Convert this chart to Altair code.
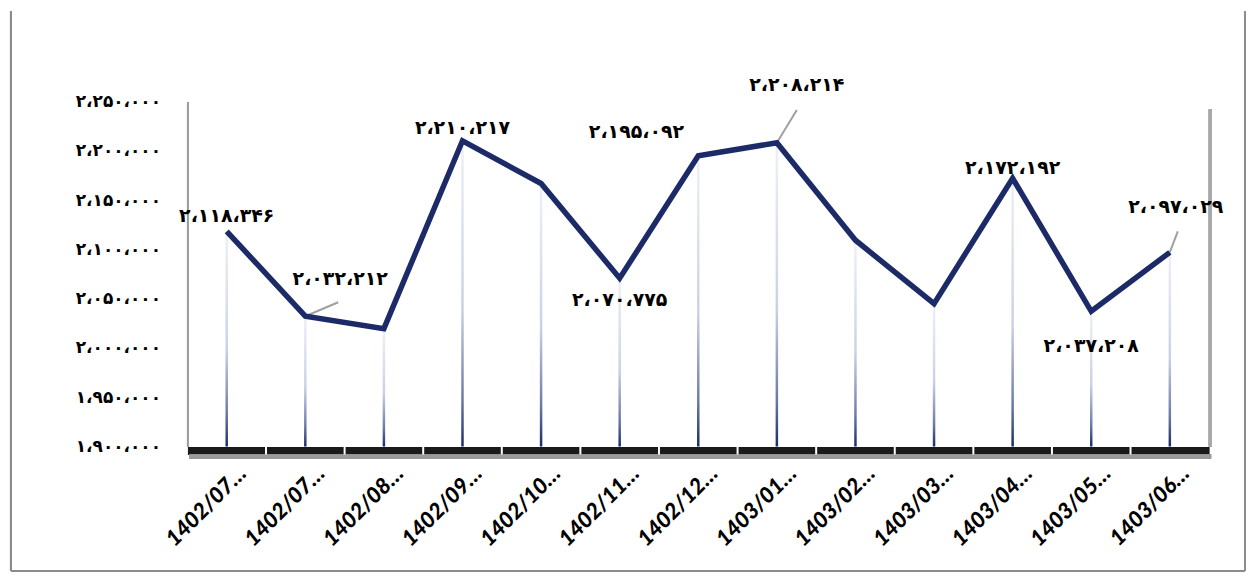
import altair as alt
import pandas as pd

# ---- data ----
categories = ["1402/07…", "1402/07…", "1402/08…", "1402/09…", "1402/10…", "1402/11…",
              "1402/12…", "1403/01…", "1403/02…", "1403/03…", "1403/04…", "1403/05…", "1403/06…"]
values = [2118346, 2032212, 2019600, 2210217, 2166900, 2070775, 2195092,
          2208214, 2109300, 2045000, 2172192, 2037208, 2097029]
labeled = [0, 1, 3, 5, 6, 7, 10, 11, 12]
y_ticks = [1900000, 1950000, 2000000, 2050000, 2100000, 2150000, 2200000, 2250000]

FA = str.maketrans("0123456789", "۰۱۲۳۴۵۶۷۸۹")


def fa(n):
    return f"{n:,}".replace(",", "،").translate(FA)


df = pd.DataFrame({
    "idx": list(range(len(values))),
    "value": values,
    "label": [fa(v) for v in values],
})

W, H = 1025, 346
Y0, Y1 = 1900000, 2250000
NAVY = "#1c2b68"
FONT_FA = "DejaVu Sans"

ylab_map = "{" + ",".join(f"'{t}':'{fa(t)}'" for t in y_ticks) + "}"
xlab_arr = "[" + ",".join(f"'{c}'" for c in categories) + "]"

x_enc = alt.X("idx:O", title=None,
              scale=alt.Scale(paddingInner=0, paddingOuter=0),
              axis=alt.Axis(labelExpr=f"{xlab_arr}[datum.value]", labelAngle=-45,
                            labelAlign="right", labelBaseline="middle",
                            labelFont="Lato", labelFontWeight=900, labelFontStyle="italic",
                            labelFontSize=22, labelColor="#000000", labelPadding=19,
                            labelOffset=16, ticks=False, domainColor="#1a1a1a",
                            domainWidth=8, domainCap="butt", offset=4))
y_scale = alt.Scale(domain=[Y0, Y1], nice=False, zero=False)
y_enc = alt.Y("value:Q", title=None, scale=y_scale,
              axis=alt.Axis(values=y_ticks, labelExpr=f"{ylab_map}[datum.value]",
                            labelFont=FONT_FA, labelFontWeight="bold", labelFontSize=17,
                            labelColor="#000000", labelPadding=27, ticks=False, grid=False,
                            domainColor="#9a9a9a", domainWidth=2))

base = alt.Chart(df)

gradient = alt.Gradient(gradient="linear", x1=0, x2=0, y1=0, y2=1, stops=[
    alt.GradientStop(color="#eef1f7", offset=0),
    alt.GradientStop(color="#c9d1e3", offset=0.55),
    alt.GradientStop(color="#6a78a6", offset=0.85),
    alt.GradientStop(color="#1c2b68", offset=1),
])

drops = base.mark_bar(size=2.5, fill=gradient).encode(x=x_enc, y=y_enc, y2=alt.datum(Y0))

line = base.mark_line(color=NAVY, strokeWidth=5.5, strokeJoin="miter").encode(x="idx:O", y="value:Q")

# shadow under the bottom bar
shadow = base.mark_rule(color="#9a9a9a", strokeWidth=4, opacity=0.5).encode(
    x=alt.value(2), x2=alt.value(W + 2), y=alt.value(H + 10))

# separators in the bottom bar
seps = base.transform_filter("datum.idx > 0").mark_rule(color="#ffffff", strokeWidth=2).encode(
    x=alt.X("idx:O", bandPosition=0), y=alt.value(H), y2=alt.value(H + 8))

# right frame of the plot
right = base.mark_rule(color="#a8a8a8", strokeWidth=2.5).encode(
    x=alt.value(W + 1), y=alt.value(8), y2=alt.value(H))

# outer frame
frame_l = base.mark_rule(color="#8c8c8c", strokeWidth=2).encode(
    x=alt.value(-177), y=alt.value(-91), y2=alt.value(471))
frame_r = base.mark_rule(color="#8c8c8c", strokeWidth=2).encode(
    x=alt.value(1061), y=alt.value(-91), y2=alt.value(471))
frame_b = base.mark_rule(color="#8c8c8c", strokeWidth=2).encode(
    x=alt.value(-177), x2=alt.value(1061), y=alt.value(471))

# label placement (pixel offsets from the point)
placement = {0: (0, -15), 1: (35, -37), 3: (0, -13), 5: (0, 22), 6: (-62, -24),
             7: (20, -58), 10: (0, -10), 11: (0, 35), 12: (6, -45)}
leaders = {1: (33, -14), 7: (20, -33), 12: (8, -21)}

layers = [shadow, drops, seps, right, frame_l, frame_r, frame_b]
for i, (ox, oy) in leaders.items():
    layers.append(base.transform_filter(f"datum.idx == {i}").mark_rule(
        color="#a0a0a0", strokeWidth=2, x2Offset=ox, y2Offset=oy).encode(
        x="idx:O", y="value:Q", x2=alt.X2("idx"), y2=alt.Y2("value")))
layers.append(line)
for i in labeled:
    dx, dy = placement[i]
    layers.append(base.transform_filter(f"datum.idx == {i}").mark_text(
        font=FONT_FA, fontWeight="bold", fontSize=19, color="#000000",
        dx=dx, dy=dy, baseline="middle", align="center").encode(
        x="idx:O", y="value:Q", text="label:N"))

chart = alt.layer(*layers).properties(
    width=W, height=H, background="#ffffff",
    autosize=alt.AutoSizeParams(type="none"),
    padding={"left": 180, "top": 93, "right": 37, "bottom": 126},
).configure_view(stroke="transparent", strokeWidth=0)

chart.save("out.html", embed_options={"renderer": "svg", "actions": False})
